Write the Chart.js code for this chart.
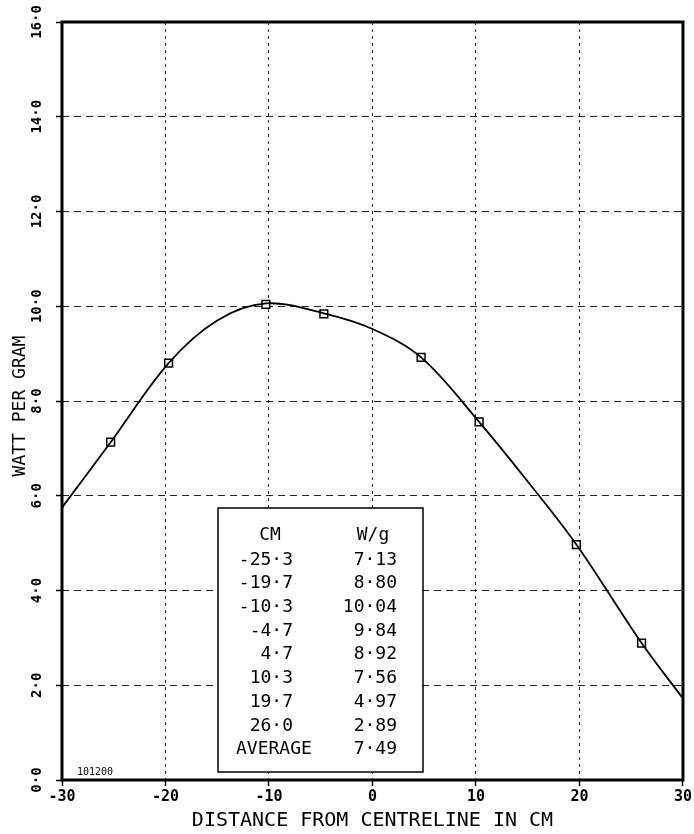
<!DOCTYPE html>
<html>
<head>
<meta charset="utf-8">
<script src="https://cdn.jsdelivr.net/npm/chart.js@4.4.1/dist/chart.umd.min.js"></script>
<style>
 html, body { margin: 0; padding: 0; background: #fff; }
</style>
</head>
<body>
<canvas id="myChart" width="694" height="834"></canvas>
<script>
// measured points (same values as the table printed on the chart)
var distCm = [-25.3, -19.7, -10.3, -4.7, 4.7, 10.3, 19.7, 26.0];
var wattPerGram = [7.13, 8.80, 10.04, 9.84, 8.92, 7.56, 4.97, 2.89];
var averageWg = 7.49;

// smooth fitted curve
var curveX = [-30, -25.3, -19.7, -15, -10.3, -4.7, 0, 4.7, 10.3, 15, 19.7, 26, 30];
var curveY = [5.75, 7.13, 8.80, 9.7, 10.06, 9.85, 9.52, 8.92, 7.56, 6.3, 4.97, 2.89, 1.72];

var xTickLabels = ['-30', '-20', '-10', '0', '10', '20', '30'];
var yTickLabels = ['0·0', '2·0', '4·0', '6·0', '8·0', '10·0', '12·0', '14·0', '16·0'];

var MONO = '"DejaVu Sans Mono", "Liberation Mono", monospace';

function dotNum(v, d) {
 return v.toFixed(d).replace('.', '·');
}

// frame, rotated y labels, the table and the little plot number
var extras = {
 id: 'extras',
 afterDraw: function(chart) {
     var ctx = chart.ctx;
     var a = chart.chartArea;
     var ys = chart.scales.y;
     ctx.save();

     // table box
     var bx = 218, by = 508, bw = 205, bh = 264;
     ctx.fillStyle = '#fff';
     ctx.fillRect(bx, by, bw, bh);
     ctx.strokeStyle = '#000';
     ctx.lineWidth = 1.5;
     ctx.strokeRect(bx, by, bw, bh);

     ctx.fillStyle = '#000';
     ctx.font = '18px ' + MONO;
     ctx.textBaseline = 'middle';
     ctx.textAlign = 'center';
     ctx.fillText('CM', 270, 535);
     ctx.fillText('W/g', 373, 535);
     var rowH = 23.7;
     for (var i = 0; i < distCm.length; i++) {
         var ry = 560 + i * rowH;
         ctx.textAlign = 'right';
         ctx.fillText(dotNum(distCm[i], 1), 293, ry);
         ctx.fillText(dotNum(wattPerGram[i], 2), 397, ry);
     }
     var ay = 560 + distCm.length * rowH;
     ctx.textAlign = 'left';
     ctx.fillText('AVERAGE', 236, ay);
     ctx.textAlign = 'right';
     ctx.fillText(dotNum(averageWg, 2), 397, ay);

     // plot number
     ctx.font = '10px ' + MONO;
     ctx.textAlign = 'left';
     ctx.fillText('101200', 77, 772);

     // y tick labels, rotated
     ctx.font = 'bold 14px ' + MONO;
     ctx.textAlign = 'center';
     ys.ticks.forEach(function(t, k) {
         var py = ys.getPixelForValue(t.value);
         ctx.save();
         ctx.translate(37, py);
         ctx.rotate(-Math.PI / 2);
         ctx.fillText(yTickLabels[k], 0, 0);
         ctx.restore();
     });

     // y title
     ctx.font = '18px ' + MONO;
     ctx.save();
     ctx.translate(20, (a.top + a.bottom) / 2 + 5);
     ctx.rotate(-Math.PI / 2);
     ctx.fillText('WATT PER GRAM', 0, 0);
     ctx.restore();

     // heavy frame
     ctx.lineWidth = 3;
     ctx.strokeStyle = '#000';
     ctx.strokeRect(a.left, a.top, a.right - a.left, a.bottom - a.top);
     ctx.restore();
 }
};

var ctx = document.getElementById('myChart').getContext('2d');
window.myChart = new Chart(ctx, {
 type: 'line',
 data: {
     datasets: [{
         label: 'fit',
         data: curveX.map((x, i) => ({ x: x, y: curveY[i] })),
         borderColor: '#000',
         borderWidth: 1.8,
         pointRadius: 0,
         fill: false,
         tension: 0.35
     }, {
         label: 'measured',
         data: distCm.map((x, i) => ({ x: x, y: wattPerGram[i] })),
         showLine: false,
         pointStyle: 'rect',
         pointRadius: 5.5,
         pointBorderWidth: 1.5,
         pointBorderColor: '#000',
         pointBackgroundColor: '#fff'
     }]
 },
 options: {
     responsive: false,
     animation: false,
     layout: { padding: { left: 56, right: 10, top: 22, bottom: 0 } },
     plugins: {
         legend: { display: false },
         tooltip: { enabled: false }
     },
     scales: {
         x: {
             type: 'linear',
             min: -30,
             max: 30,
             border: { display: false, dash: [3, 4] },
             grid: {
                 color: '#222',
                 lineWidth: 1,
                 tickLength: 6,
                 tickColor: '#000',
                 tickWidth: 1.5,
                 tickBorderDash: []
             },
             ticks: {
                 stepSize: 10,
                 padding: 2,
                 color: '#000',
                 font: { family: MONO, size: 15, weight: 'bold' },
                 maxRotation: 0,
                 callback: function(v, i) { return xTickLabels[i]; }
             },
             title: {
                 display: true,
                 text: 'DISTANCE FROM CENTRELINE IN CM',
                 color: '#000',
                 font: { family: MONO, size: 20 },
                 padding: { top: 1, bottom: 1 }
             }
         },
         y: {
             min: 0,
             max: 16,
             border: { display: false, dash: [7, 5] },
             grid: {
                 color: '#222',
                 lineWidth: 1,
                 tickLength: 6,
                 tickColor: '#000',
                 tickWidth: 1.5,
                 tickBorderDash: []
             },
             ticks: {
                 stepSize: 2,
                 display: false
             }
         }
     }
 },
 plugins: [extras]
});
</script>
</body>
</html>
